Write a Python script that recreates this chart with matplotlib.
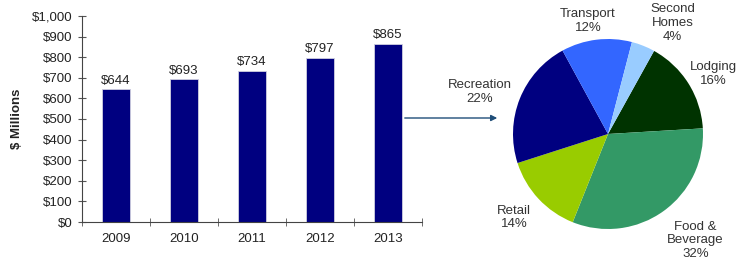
import matplotlib.pyplot as plt
from matplotlib.patches import FancyArrowPatch
import numpy as np

plt.rcParams['font.family'] = ['Liberation Sans', 'DejaVu Sans']

# spending by year, $ millions
years = ['2009', '2010', '2011', '2012', '2013']
spend = [644, 693, 734, 797, 865]

# 2013 split by category (clockwise from Lodging)
cats = ['Lodging', 'Food &\nBeverage', 'Retail', 'Recreation', 'Transport', 'Second\nHomes']
shares = [16, 32, 14, 22, 12, 4]
pie_colors = ['#003300', '#339966', '#99cc00', '#000080', '#3366ff', '#99ccff']

fig = plt.figure(figsize=(7.4, 2.62), dpi=100)
fs = 9.5

# bar chart
ax = fig.add_axes([82/740, 1-222/262, 340/740, 206/262])
x = np.arange(len(years))
ax.bar(x, spend, width=0.4, color='#000080', edgecolor='#d0d0e0', linewidth=0.6)
for xi, v in zip(x, spend):
    ax.text(xi, v + 12, f'${v}', ha='center', va='bottom', fontsize=fs, color='#222222')
ax.set_xlim(-0.5, len(years) - 0.5)
ax.set_ylim(0, 1000)
ax.set_yticks(np.arange(0, 1001, 100))
ax.set_yticklabels([f'${t:,}' for t in range(0, 1001, 100)], fontsize=fs, color='#222222')
ax.set_xticks(x)
ax.set_xticklabels(years, fontsize=fs, color='#222222')
ax.set_xticks(np.arange(-0.5, len(years)), minor=True)
ax.tick_params(axis='x', which='major', length=0, pad=8)
ax.tick_params(axis='x', which='minor', length=6, direction='inout', color='#555555')
ax.tick_params(axis='y', length=6, direction='inout', color='#555555', pad=4)
for s in ['top', 'right']:
    ax.spines[s].set_visible(False)
ax.spines['left'].set_color('#444444')
ax.spines['bottom'].set_color('#444444')
ax.set_ylabel('$ Millions', fontsize=fs, fontweight='bold', color='#222222', labelpad=6)

# pie chart
pax = fig.add_axes([513/740, 1-229/262, 190/740, 190/262])
pax.pie(shares, colors=pie_colors, startangle=61, counterclock=False, radius=1,
        wedgeprops=dict(linewidth=0))
pax.set_xlim(-1, 1)
pax.set_ylim(-1, 1)
label_pos = [(1.11, 0.63), (0.92, -1.12), (-0.99, -0.88), (-1.35, 0.44), (-0.21, 1.19), (0.68, 1.17)]
for c, s, (lx, ly) in zip(cats, shares, label_pos):
    pax.text(lx, ly, f'{c}\n{s}%', ha='center', va='center', fontsize=fs,
             color='#333333', linespacing=1.2)

# arrow from bars to pie
fig.add_artist(FancyArrowPatch(
    (402/740, 1-118/262), (500/740, 1-118/262), transform=fig.transFigure,
    arrowstyle='-|>', mutation_scale=9, color='#1f4e79', linewidth=1.0))

fig.savefig('out.png', dpi=100)
